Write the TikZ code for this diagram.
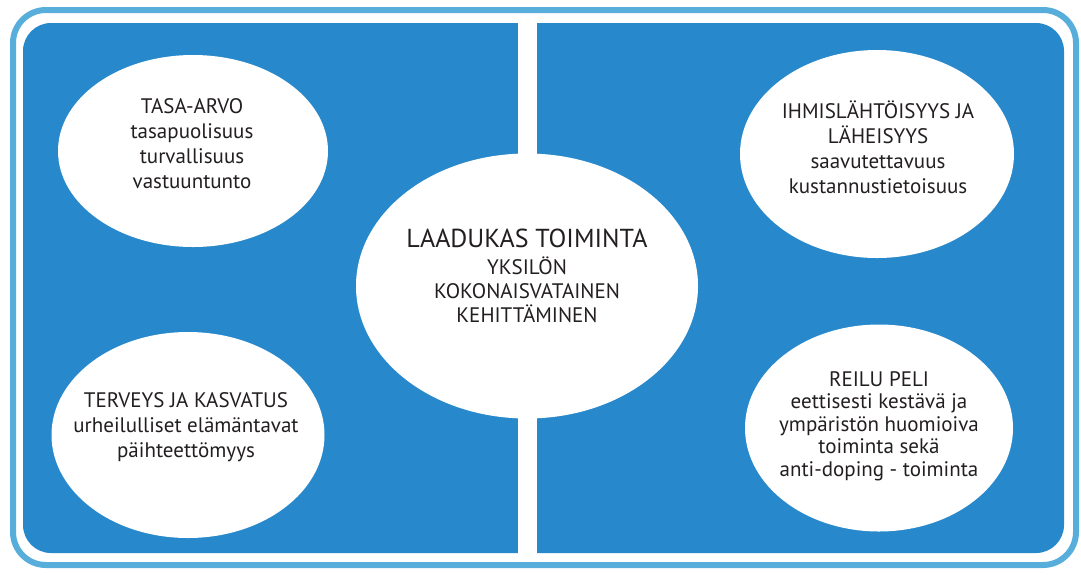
\documentclass[tikz,border=0pt]{standalone}
\usepackage{fontspec}
\setmainfont{PT Sans}
\usetikzlibrary{shapes.geometric}
\definecolor{rim}{HTML}{58AEDB}
\definecolor{panel}{HTML}{2789CB}
\definecolor{ink}{HTML}{231F20}
\tikzset{
  bubble/.style={ellipse, fill=white, draw=none, inner sep=0pt},
  txt/.style={align=center, text=ink, inner sep=0pt, font=\fontsize{21}{25}\selectfont},
  txttight/.style={txt, font=\fontsize{21}{22.5}\selectfont},
}
\begin{document}
\begin{tikzpicture}[x=1pt,y=-1pt]
\useasboundingbox (0,0) rectangle (1081,574);
\fill[white] (0,0) rectangle (1081,574);
% outer light border
\draw[rim, line width=6pt, rounded corners=33pt] (13,10) rectangle (1076,565);
% dark panel
\fill[panel, rounded corners=28pt] (23,23) rectangle (1064,553);
% white divider
\fill[white] (518,20) rectangle (537,556);
% ellipses
\node[bubble, minimum width=270pt, minimum height=192pt] (tl) at (193,151) {};
\node[bubble, minimum width=273pt, minimum height=206pt] (bl) at (188,435) {};
\node[bubble, minimum width=274pt, minimum height=208pt] (tr) at (877,154) {};
\node[bubble, minimum width=268pt, minimum height=207pt] (br) at (879,428) {};
\node[bubble, minimum width=342pt, minimum height=265pt] (c) at (527,286) {};
% texts
\node[txt] (tlt) at (192,144) {TASA-ARVO\\tasapuolisuus\\turvallisuus\\vastuuntunto};
\node[txt] (blt) at (186,427) {TERVEYS JA KASVATUS\\urheilulliset elämäntavat\\päihteettömyys};
\node[txt] (trt) at (878,147) {IHMISLÄHTÖISYYS JA\\LÄHEISYYS\\saavutettavuus\\kustannustietoisuus};
\node[txttight] (brt) at (879,426) {REILU PELI\\eettisesti kestävä ja\\ympäristön huomioiva\\toiminta sekä\\anti-doping - toiminta};
\node[txt, font=\fontsize{21}{24}\selectfont] (ct) at (527,276) {{\fontsize{26}{30}\selectfont LAADUKAS TOIMINTA}\\[3pt]YKSILÖN\\KOKONAISVATAINEN\\KEHITTÄMINEN};
\end{tikzpicture}
\end{document}
